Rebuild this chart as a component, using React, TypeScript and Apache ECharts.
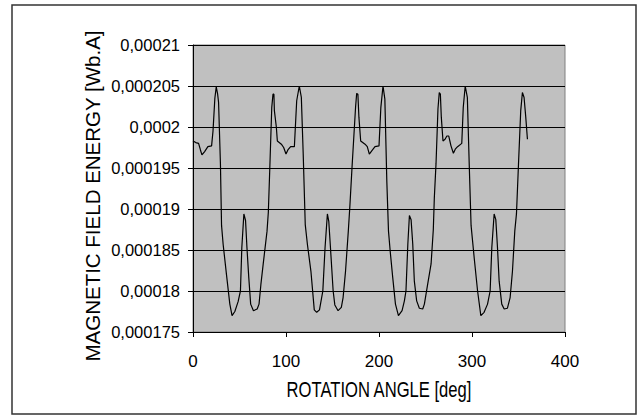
import React, { useEffect, useRef } from "react";
import * as echarts from "echarts";

const angles: number[] = [
  0, 3, 6, 8, 9.6, 12.5, 16, 20, 21.5, 23.5, 25, 26.5, 27.5, 29.5, 30.7, 32.4, 36, 39.6, 42, 45,
  48.5, 51, 52.5, 54.7, 56.5, 58, 60, 62, 65, 69, 71, 73, 75.5, 79.6, 81, 82.5, 84.7, 86, 87, 87.5,
  89.6, 90.7, 95, 97.5, 100, 102, 105, 109, 111.5, 114.3, 116.5, 118.5, 120.7, 123, 126.8, 130.4,
  133, 136, 139.6, 142, 144.5, 146, 147.8, 150.7, 152.5, 156, 159.5, 161.4, 164, 167, 168.6, 171,
  174.8, 176, 177.3, 178.4, 180.3, 185, 187.4, 189.6, 193, 195.7, 200, 202, 204.3, 206.3, 208.4,
  210.2, 212, 214.8, 217.7, 220.9, 224.8, 227.3, 229, 231, 232.7, 234.5, 236.3, 238, 240.5, 243.4,
  247, 248.8, 252.3, 256, 258.4, 259.5, 261.3, 263.4, 264.8, 266, 267, 268.8, 271, 273, 275, 277.4,
  280, 282, 284.5, 289, 290.6, 292.7, 295, 297, 299, 302.4, 306, 309.5, 313, 316.7, 319.5, 321.3,
  323.8, 325.6, 327.4, 329.2, 332, 334.6, 338.1, 341, 343.5, 346, 347.8, 350, 352.4, 354.2, 356,
  357.8, 359.6,
];

const energy: number[] = [
  0.0001983, 0.0001981, 0.000198, 0.0001972, 0.0001966, 0.000197, 0.0001976, 0.0001977, 0.0001995,
  0.0002035, 0.0002049, 0.000204, 0.000203, 0.0001955, 0.000188, 0.0001857, 0.000182, 0.0001784,
  0.000177, 0.0001775, 0.0001787, 0.00018, 0.0001853, 0.0001894, 0.0001886, 0.0001853, 0.0001816,
  0.0001784, 0.0001776, 0.0001778, 0.0001784, 0.0001808, 0.0001833, 0.0001873, 0.0001896, 0.0001947,
  0.0002024, 0.000204, 0.000204, 0.000202, 0.0002, 0.0001983, 0.0001979, 0.0001975, 0.0001967,
  0.0001972, 0.0001976, 0.0001976, 0.0002032, 0.000205, 0.0002036, 0.0001967, 0.0001881, 0.0001857,
  0.0001824, 0.0001777, 0.0001774, 0.0001777, 0.00018, 0.0001853, 0.0001894, 0.0001885, 0.0001853,
  0.00018, 0.0001783, 0.0001776, 0.000178, 0.0001792, 0.0001824, 0.0001873, 0.0001902, 0.0001951,
  0.0002024, 0.0002041, 0.000204, 0.0002012, 0.0001983, 0.0001979, 0.0001976, 0.0001967, 0.0001972,
  0.0001976, 0.0001977, 0.0002024, 0.000205, 0.0002034, 0.0001934, 0.0001873, 0.0001849, 0.0001816,
  0.0001784, 0.000177, 0.0001776, 0.0001788, 0.00018, 0.0001857, 0.0001892, 0.0001887, 0.0001857,
  0.0001812, 0.0001788, 0.0001779, 0.0001778, 0.0001784, 0.0001808, 0.0001833, 0.0001875, 0.0001914,
  0.0001955, 0.0002022, 0.0002042, 0.000204, 0.0002012, 0.0001983, 0.0001985, 0.0001989, 0.0001989,
  0.0001977, 0.0001968, 0.0001973, 0.0001976, 0.000198, 0.0002024, 0.000205, 0.0002036, 0.0001955,
  0.000188, 0.000184, 0.00018, 0.000177, 0.0001774, 0.0001784, 0.00018, 0.0001853, 0.0001894,
  0.0001887, 0.0001853, 0.0001812, 0.0001784, 0.0001778, 0.0001779, 0.0001792, 0.0001824, 0.0001873,
  0.0001894, 0.0001955, 0.000202, 0.0002042, 0.0002036, 0.0002012, 0.0001985,
];

const xAxisTitle = "ROTATION ANGLE [deg]";
const yAxisTitle = "MAGNETIC FIELD ENERGY [Wb.A]";

const FONT = "'Liberation Sans', Arial, sans-serif";

export default function App() {
  const ref = useRef<HTMLDivElement>(null);
  useEffect(() => {
    if (!ref.current) return;
    const chart = echarts.init(ref.current, null, { renderer: "svg" });
    const data = angles.map((a, i) => [a, energy[i]]);
    chart.setOption({
      animation: false,
      backgroundColor: "#ffffff",
      textStyle: { fontFamily: FONT },
      graphic: [
        {
          type: "rect",
          shape: { x: 12, y: 5, width: 624, height: 409 },
          style: { fill: "none", stroke: "#333333", lineWidth: 1.5 },
          silent: true,
          z: -1,
        },
        {
          type: "text",
          x: 379,
          y: 390,
          scaleY: 1.3,
          silent: true,
          style: {
            text: xAxisTitle,
            fontFamily: FONT,
            fontSize: 16.6,
            fill: "#000",
            align: "center",
            verticalAlign: "middle",
          },
        },
        {
          type: "text",
          x: 92.5,
          y: 196,
          rotation: Math.PI / 2,
          silent: true,
          style: {
            text: yAxisTitle,
            fontFamily: FONT,
            fontSize: 20.5,
            fill: "#000",
            align: "center",
            verticalAlign: "middle",
          },
        },
      ],
      grid: {
        left: 193,
        top: 45,
        right: 77,
        bottom: 84,
        show: true,
        backgroundColor: "#c0c0c0",
        borderColor: "#808080",
        borderWidth: 1,
      },
      xAxis: {
        type: "value",
        min: 0,
        max: 400,
        interval: 100,
        axisLine: { show: true, onZero: false, lineStyle: { color: "#000", width: 1 } },
        axisTick: { show: true, length: 5, lineStyle: { color: "#000" } },
        axisLabel: { fontFamily: FONT, fontSize: 17, color: "#000", margin: 21 },
        splitLine: { show: false },
      },
      yAxis: {
        type: "value",
        min: 0.000175,
        max: 0.00021,
        interval: 0.000005,
        axisLine: { show: true, lineStyle: { color: "#000", width: 1 } },
        axisTick: { show: true, length: 5, lineStyle: { color: "#000" } },
        axisLabel: {
          fontFamily: FONT,
          fontSize: 16.5,
          color: "#000",
          margin: 13,
          formatter: (v: number) => String(parseFloat(v.toFixed(7))).replace(".", ","),
        },
        splitLine: { show: true, lineStyle: { color: "#000", width: 1 } },
      },
      series: [
        {
          type: "line",
          data,
          showSymbol: false,
          symbol: "none",
          lineStyle: { color: "#000", width: 1.2 },
        },
      ],
    });
    return () => chart.dispose();
  }, []);
  return (
    <div
      ref={ref}
      style={{ position: "fixed", left: 0, top: 0, width: 642, height: 416 }}
    />
  );
}
